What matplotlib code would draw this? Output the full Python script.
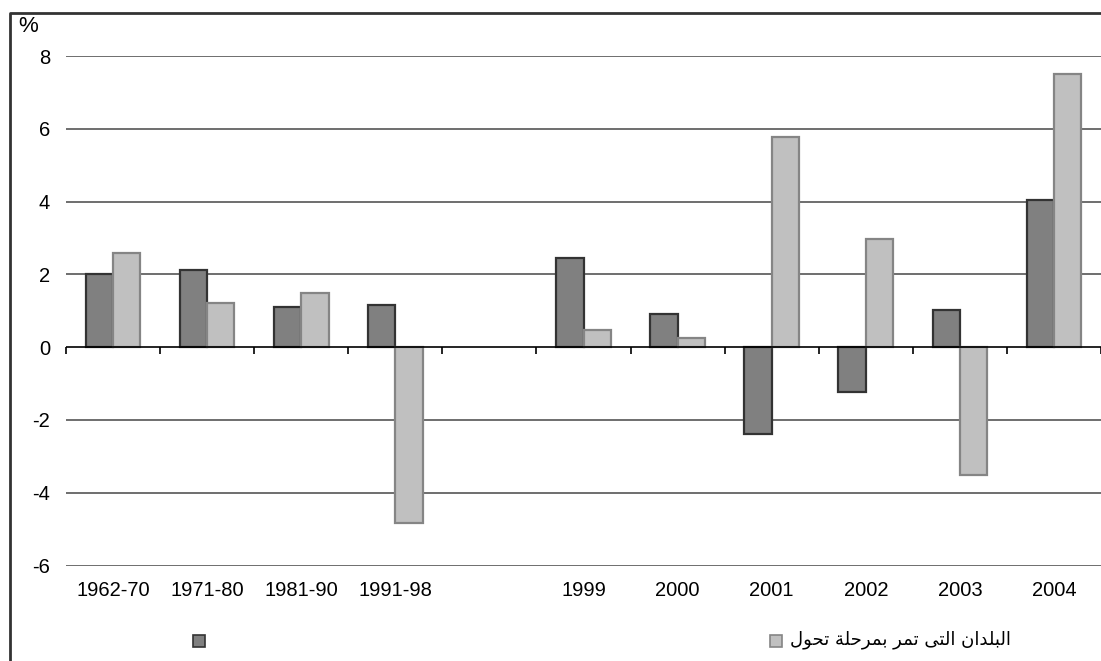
import matplotlib
matplotlib.use("Agg")
import matplotlib.pyplot as plt
from matplotlib.patches import Rectangle
from matplotlib.lines import Line2D
import numpy as np

categories = ["1962-70", "1971-80", "1981-90", "1991-98", "", "1999", "2000", "2001", "2002", "2003", "2004"]
series_dark = [2.02, 2.12, 1.11, 1.17, np.nan, 2.44, 0.90, -2.40, -1.23, 1.01, 4.04]
series_light = [2.60, 1.22, 1.49, -4.84, np.nan, 0.48, 0.26, 5.78, 2.97, -3.51, 7.50]
yticks = [-6, -4, -2, 0, 2, 4, 6, 8]

# Arabic legend label, shaped into presentation forms for rendering
label_light_logical = ("\uFE8D\uFEDF\uFE92\uFEE0\uFEAA\uFE8D\uFEE5 "
                       "\uFE8D\uFEDF\uFE98\uFEF0 "
                       "\uFE97\uFEE4\uFEAE "
                       "\uFE91\uFEE4\uFEAE\uFEA3\uFEE0\uFE94 "
                       "\uFE97\uFEA4\uFEEE\uFEDD")
label_light = label_light_logical[::-1]
label_dark = ""

plt.rcParams['font.family'] = ['Liberation Sans', 'DejaVu Sans']

W, H = 1101, 661
fig = plt.figure(figsize=(W / 100, H / 100), dpi=100)
left, right = 66 / W, 1.0
bottom, top = 1 - 565.5 / H, 1 - 56 / H
ax = fig.add_axes([left, bottom, right - left, top - bottom])

x = np.arange(len(categories))
bw = 0.29
ax.bar(x - bw / 2, series_dark, bw, color="#808080", edgecolor="#333333", linewidth=1.6, zorder=3)
ax.bar(x + bw / 2, series_light, bw, color="#C0C0C0", edgecolor="#858585", linewidth=1.6, zorder=3)

ax.set_xlim(-0.5, len(categories) - 0.5)
ax.set_ylim(-6, 8)
ax.set_yticks(yticks)
ax.set_yticklabels([str(v) for v in yticks])
for yv in yticks:
    if yv != 0:
        ax.axhline(yv, color="#555555", linewidth=1.2, zorder=1)
ax.axhline(0, color="black", linewidth=1.2, zorder=4)

for s in ax.spines.values():
    s.set_visible(False)
ax.tick_params(axis='y', length=0, pad=11.5, labelsize=14.5)
ax.set_xticks(x)
ax.set_xticklabels(categories)
ax.tick_params(axis='x', length=0, pad=11, labelsize=14.5)

# tick marks on zero line at slot boundaries
sec = ax.secondary_xaxis(6 / 14)
sec.spines['bottom'].set_visible(False)
sec.set_xticks(np.arange(-0.5, len(categories) + 0.5, 1.0))
sec.set_xticklabels([])
sec.tick_params(axis='x', direction='out', length=5, width=1.2, color='black')

# frame border of original chart
fig.add_artist(Line2D([9.5 / W, 9.5 / W, 1.0], [0, 1 - 13 / H, 1 - 13 / H],
                      transform=fig.transFigure, color="#333333", linewidth=2))

fig.text(18 / W, 1 - 26 / H, "%", fontsize=16, va='center', ha='left')

# legend
fig.add_artist(Rectangle((193 / W, 1 - 647 / H), 12 / W, 12 / H, transform=fig.transFigure,
                         facecolor="#808080", edgecolor="#333333", linewidth=1.2))
fig.text(210 / W, 1 - 641 / H, label_dark, fontsize=12.5, va='center', ha='left')
fig.add_artist(Rectangle((770 / W, 1 - 647 / H), 12 / W, 12 / H, transform=fig.transFigure,
                         facecolor="#C0C0C0", edgecolor="#858585", linewidth=1.2))
fig.text(790 / W, 1 - 640 / H, label_light, fontsize=13, va='center', ha='left',
         family=['DejaVu Sans'])

fig.savefig("out.png", dpi=100)
